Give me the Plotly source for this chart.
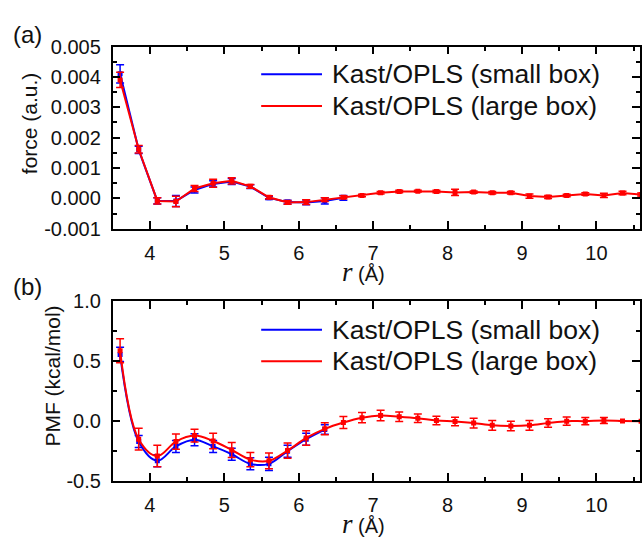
import plotly.graph_objects as go

# ---------------- data ----------------
r_large = [3.6, 3.85, 4.1, 4.35, 4.6, 4.85, 5.1, 5.35, 5.6, 5.85, 6.1, 6.35, 6.6, 6.85,
           7.1, 7.35, 7.6, 7.85, 8.1, 8.35, 8.6, 8.85, 9.1, 9.35, 9.6, 9.85, 10.1, 10.35, 10.6]
r_small_force = [3.6, 3.85, 4.1, 4.35, 4.6, 4.85, 5.1, 5.35, 5.6, 5.85, 6.1, 6.35, 6.6]
r_small_pmf = [3.6, 3.85, 4.1, 4.35, 4.6, 4.85, 5.1, 5.35, 5.6, 5.85, 6.1, 6.35]

force_large = [0.0039, 0.00162, -0.00008, -0.0001, 0.00033, 0.0005, 0.00058, 0.0004, 0.00004,
               -0.00013, -0.00012, -0.00004, 0.00004, 0.0001, 0.00019, 0.00023, 0.00024, 0.00023,
               0.0002, 0.00021, 0.00019, 0.00019, 0.00008, 0.00005, 0.0001, 0.00015, 0.0001,
               0.00018, 0.00013]
force_large_err = [0.00025, 0.00012, 0.0001, 0.00017, 0.0001, 0.00013, 0.0001, 0.00006, 0.00005,
                   0.00006, 0.00008, 0.00006, 0.00005, 0.00004, 0.00004, 0.00004, 0.00003, 0.00004,
                   0.0001, 0.00004, 0.00004, 0.00004, 0.00007, 0.00005, 0.00004, 0.00004, 0.00007,
                   0.00006, 0.00005]
force_small = [0.0041, 0.0016, -0.00008, -0.00008, 0.00028, 0.00048, 0.00056, 0.00039, 0.00002,
               -0.00012, -0.00013, -0.00008, 0.00002]
force_small_err = [0.0003, 0.00012, 0.0001, 0.00018, 0.0001, 0.0001, 0.0001, 0.00006, 0.00005,
                   0.00006, 0.00008, 0.0001, 0.00008]

pmf_large = [0.585, -0.15, -0.29, -0.17, -0.12, -0.165, -0.24, -0.32, -0.33, -0.245, -0.14,
             -0.064, -0.011, 0.029, 0.047, 0.037, 0.024, 0.005, -0.003, -0.016, -0.035, -0.04,
             -0.035, -0.016, 0.0, 0.0, 0.005, 0.002, 0.0]
pmf_large_err = [0.1, 0.09, 0.09, 0.064, 0.053, 0.064, 0.063, 0.06, 0.065, 0.064, 0.06, 0.05,
                 0.05, 0.043, 0.043, 0.04, 0.035, 0.035, 0.035, 0.04, 0.04, 0.04, 0.04, 0.035,
                 0.035, 0.03, 0.025, 0.0, 0.0]
pmf_small = [0.555, -0.17, -0.33, -0.21, -0.155, -0.21, -0.275, -0.355, -0.355, -0.25, -0.15, -0.07]
pmf_small_err = [0.06, 0.05, 0.05, 0.05, 0.05, 0.05, 0.05, 0.05, 0.055, 0.05, 0.05, 0.04]

force_ticks = [-0.001, 0.0, 0.001, 0.002, 0.003, 0.004, 0.005]
force_ticktext = ["-0.001", "0.000", "0.001", "0.002", "0.003", "0.004", "0.005"]
pmf_ticks = [-0.5, 0.0, 0.5, 1.0]
pmf_ticktext = ["-0.5", "0.0", "0.5", "1.0"]
x_ticks = [4, 5, 6, 7, 8, 9, 10]
x_ticktext = ["4", "5", "6", "7", "8", "9", "10"]

name_small = "Kast/OPLS (small box)"
name_large = "Kast/OPLS (large box)"

BLUE = "#0000FF"
RED = "#FF0000"
W, H = 642, 547


def fx(px):
    return px / W


def fy(py):
    return 1 - py / H


fig = go.Figure()


def add_series(x, y, err, color, name, xa, ya, shape):
    fig.add_trace(go.Scatter(
        x=x, y=y, name=name, mode="lines+markers",
        line=dict(color=color, width=2, shape=shape),
        marker=dict(symbol="square", size=5, color=color),
        error_y=dict(type="data", array=err, visible=True, color=color,
                     thickness=1.5, width=4),
        xaxis=xa, yaxis=ya, showlegend=False))


add_series(r_small_force, force_small, force_small_err, BLUE, name_small, "x", "y", "linear")
add_series(r_large, force_large, force_large_err, RED, name_large, "x", "y", "linear")
add_series(r_small_pmf, pmf_small, pmf_small_err, BLUE, name_small, "x2", "y2", "spline")
add_series(r_large, pmf_large, pmf_large_err, RED, name_large, "x2", "y2", "spline")

FONT = "Liberation Sans, Arial, sans-serif"
tickfont = dict(family=FONT, size=20, color="#111")

xcommon = dict(range=[3.5, 10.585], tickvals=x_ticks, ticktext=x_ticktext,
               showline=True, linecolor="black", linewidth=1.6, mirror="ticks",
               ticks="inside", ticklen=8, tickwidth=1.5, tickcolor="black",
               minor=dict(dtick=0.5, tick0=3.5, ticks="inside", ticklen=4.5,
                          tickwidth=1.5, tickcolor="black"),
               showgrid=False, zeroline=False, tickfont=tickfont,
               ticklabelstandoff=5)

fig.update_layout(
    width=W, height=H,
    margin=dict(l=0, r=0, t=0, b=0),
    paper_bgcolor="white", plot_bgcolor="white",
    showlegend=False,
    xaxis=dict(domain=[fx(113), 1], anchor="y", **xcommon),
    xaxis2=dict(domain=[fx(113), 1], anchor="y2", **xcommon),
    yaxis=dict(domain=[fy(227), fy(37)], anchor="x", range=[-0.001, 0.005],
               tickvals=force_ticks, ticktext=force_ticktext,
               showline=True, linecolor="black", linewidth=1.6, mirror="ticks",
               ticks="inside", ticklen=8, tickwidth=1.5, tickcolor="black",
               minor=dict(dtick=0.0005, tick0=-0.001, ticks="inside", ticklen=4.5,
                          tickwidth=1.5, tickcolor="black"),
               showgrid=False, zeroline=False, tickfont=tickfont, ticklabelstandoff=6),
    yaxis2=dict(domain=[fy(490), fy(302)], anchor="x2", range=[-0.5, 1.0],
                tickvals=pmf_ticks, ticktext=pmf_ticktext,
                showline=True, linecolor="black", linewidth=1.6, mirror="ticks",
                ticks="inside", ticklen=8, tickwidth=1.5, tickcolor="black",
                minor=dict(dtick=0.25, tick0=-0.5, ticks="inside", ticklen=4.5,
                           tickwidth=1.5, tickcolor="black"),
                showgrid=False, zeroline=False, tickfont=tickfont, ticklabelstandoff=6),
)

annotations = []
shapes = []


def text(x, y, t, size, angle=0, xanchor="center", family=FONT):
    annotations.append(dict(x=fx(x), y=fy(y), xref="paper", yref="paper", text=t,
                            showarrow=False, textangle=angle, xanchor=xanchor,
                            yanchor="middle", font=dict(family=family, size=size, color="#111")))


# panel labels
text(28, 24, "(a)", 24)
text(28, 287, "(b)", 24)
# y titles
text(29, 117, "force (a.u.)", 21, angle=-90)
text(53, 380, "PMF (kcal/mol)", 21, angle=-90)
# x titles
rtitle = ('<span style="font-family:Liberation Serif, Times New Roman, serif;'
          'font-style:italic;font-size:27px">r</span> (Å)')
text(365, 272, rtitle, 20)
text(365, 535, rtitle, 20)

# legends
for (yb, yr) in [(66, 99), (332, 365)]:
    for yy, col, nm in [(yb, BLUE, name_small), (yr, RED, name_large)]:
        shapes.append(dict(type="line", xref="paper", yref="paper",
                           x0=fx(262), x1=fx(323), y0=fy(yy), y1=fy(yy),
                           line=dict(color=col, width=2)))
        text(331, yy, nm, 26.5, xanchor="left")

fig.update_layout(annotations=annotations, shapes=shapes)

fig.write_html("out.html")
